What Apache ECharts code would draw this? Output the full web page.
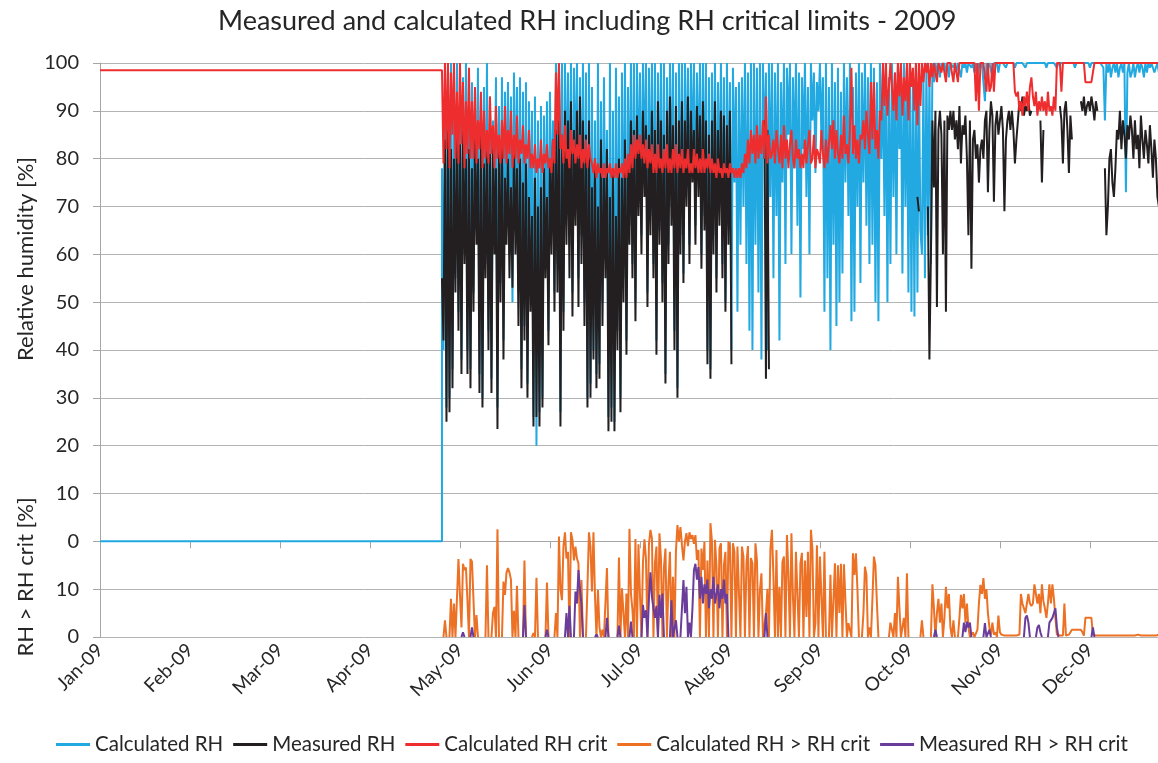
<!DOCTYPE html>
<html>
<head>
<meta charset="utf-8">
<script src="https://cdn.jsdelivr.net/npm/echarts@6/dist/echarts.min.js"></script>
<style>
  html, body { margin: 0; padding: 0; background: #fff; }
  #chart { width: 1158px; height: 763px; }
</style>
</head>
<body>
<div id="chart"></div>
<script>
// month tick labels, one every 30 days on the x axis
const monthLabels = ['Jan-09', 'Feb-09', 'Mar-09', 'Apr-09', 'May-09', 'Jun-09',
  'Jul-09', 'Aug-09', 'Sep-09', 'Oct-09', 'Nov-09', 'Dec-09'];

// readings start on day 114 (24 Apr), one value every half day
const startDay = 114;
const stepDays = 0.5;

// before the logger started: flat values from 1 Jan
const leadDays = [0, 114];
const calcLead = [0, 0];
const critLead = [98.5, 98.5];

// Calculated RH [%]
const calcRH = [
  78, 40, 100, 28, 98, 30, 100, 36, 95, 55, 100, 48, 92, 38, 97, 60, 100, 40, 94, 36,
  96, 52, 92, 65, 99, 35, 90, 30, 95, 58, 100, 44, 93, 34, 88, 64, 97, 28, 91, 54,
  97, 42, 94, 66, 96, 60, 93, 50, 98, 68, 95, 52, 97, 36, 94, 45, 96, 33, 92, 55,
  90, 26, 93, 20, 88, 27, 91, 30, 89, 60, 92, 44, 94, 66, 88, 52, 100, 58, 100, 27,
  100, 48, 100, 70, 98, 62, 100, 52, 99, 74, 100, 55, 97, 64, 100, 50, 98, 30, 100, 33,
  95, 40, 88, 35, 100, 37, 92, 50, 97, 60, 86, 26, 100, 28, 90, 25, 99, 44, 93, 30,
  98, 55, 100, 42, 95, 66, 100, 58, 100, 50, 100, 72, 98, 64, 100, 76, 100, 52, 99, 68,
  100, 58, 100, 42, 98, 65, 100, 54, 100, 35, 97, 62, 100, 70, 100, 44, 98, 32, 100, 64,
  100, 56, 100, 74, 99, 62, 100, 78, 100, 66, 98, 75, 100, 60, 100, 68, 100, 40, 97, 36,
  98, 64, 100, 55, 96, 70, 100, 58, 97, 50, 100, 66, 96, 40, 99, 75, 95, 48, 96, 62,
  97, 70, 100, 58, 98, 44, 100, 40, 100, 62, 99, 52, 100, 38, 100, 80, 98, 40, 100, 72,
  100, 55, 98, 68, 100, 42, 96, 75, 100, 58, 99, 85, 100, 60, 97, 78, 100, 66, 98, 51,
  97, 82, 100, 72, 95, 60, 100, 88, 98, 77, 96, 90, 100, 84, 97, 48, 100, 55, 95, 40,
  100, 62, 96, 45, 99, 50, 94, 56, 100, 75, 97, 68, 100, 46, 95, 48, 98, 70, 100, 54,
  98, 75, 100, 66, 97, 58, 100, 62, 99, 50, 96, 46, 100, 80, 98, 68, 100, 50, 97, 58,
  100, 72, 98, 60, 100, 82, 97, 56, 100, 70, 99, 52, 100, 48, 96, 47, 100, 52, 98, 65,
  60, 98, 55, 100, 64, 97, 58, 100, 96, 100, 98, 100, 97, 100, 99, 100, 98, 100, 97, 100,
  100, 99, 100, 98, 100, 100, 97, 100, 99, 100, 98, 100, 100, 99, 100, 98, 100, 97, 100, 99,
  100, 96, 92, 100, 99, 100, 100, 97, 100, 100, 100, 98, 100, 100, 100, 100, 99, 100, 100, 100,
  100, 100, 99, 100, 100, 100, 100, 100, 100, 99, 100, 100, 100, 100, 100, 100, 100, 100, 100, 100,
  100, 100, 100, 99, 100, 100, 100, 100, 100, 100, 99, 100, 100, 100, 100, 100, 100, 100, 100, 100,
  100, 100, 99, 100, 100, 100, 100, 100, 100, 100, 100, 100, 99, 100, 100, 100, 100, 100, 100, 100,
  100, 99, 88, 100, 98, 100, 97, 99, 100, 98, 100, 97, 99, 100, 98, 100, 73, 98, 100, 97,
  98, 100, 97, 99, 100, 98, 100, 99, 97, 100, 98, 100, 99, 100, 100, 98, 99, 100, 98, 99
];

// Measured RH [%] (null = no reading)
const measRH = [
  55, 42, 84, 25, 86, 27, 82, 32, 80, 52, 85, 44, 83, 35, 86, 58, 80, 35, 82, 32,
  78, 48, 84, 62, 80, 31, 86, 28, 79, 55, 83, 40, 81, 31, 85, 60, 78, 23.5, 82, 50,
  84, 38, 76, 62, 80, 55, 74, 53, 82, 60, 78, 45, 80, 32, 75, 42, 79, 30, 72, 48,
  68, 24, 76, 26, 70, 24, 74, 28, 78, 55, 72, 41, 80, 60, 84, 48, 86, 52, 88, 24,
  85, 44, 90, 62, 88, 55, 92, 47, 86, 66, 90, 49, 93, 58, 88, 45, 85, 28, 88, 30,
  74, 38, 80, 32, 70, 34, 84, 45, 76, 55, 82, 23, 72, 25, 78, 23, 68, 40, 80, 27,
  76, 50, 84, 39, 80, 62, 88, 55, 86, 46, 89, 68, 84, 60, 90, 72, 87, 49, 85, 64,
  90, 55, 86, 39, 92, 62, 88, 50, 85, 33, 90, 58, 93, 66, 87, 40, 91, 30, 88, 60,
  92, 54, 88, 70, 93, 58, 90, 75, 86, 62, 91, 72, 89, 57, 92, 65, 88, 37, 85, 34,
  88, 60, 92, 52, 86, 66, 90, 55, 89, 48, 87, 62, 90, 37, null, null, null, null, null, null,
  null, null, null, null, null, null, null, null, null, null, null, null, null, null, null, 88, 34, 86, 36, null,
  null, null, null, null, null, null, null, null, null, null, null, null, null, null, null, null, null, null, null, null,
  null, null, null, null, null, null, null, null, null, null, null, null, null, null, null, null, null, null, null, null,
  null, null, null, null, null, null, null, null, null, null, null, null, null, null, null, null, null, null, null, null,
  null, null, null, null, null, null, null, null, null, null, null, null, null, null, null, null, null, null, null, null,
  null, null, null, null, null, null, null, null, null, null, null, null, null, null, null, null, null, 72, 69, null,
  null, null, null, null, 70, 38, 60, 88, 74, 90, 49, 86, 90, 85, 60, 88, 48, 89, 86, 90,
  86, 90, 84, 88, 82, 91, 79, 87, 85, 89, 80, 64, 88, 57, 84, 86, 80, 83, 75, 82,
  84, 80, 88, 90, 73, 86, 92, 89, 71, 87, 90, 85, 88, 91, 86, 69, 84, 88, 90, 86,
  90, 86, 79, 84, 88, 92, 90, 93, 89, 91, 90, 92, 89, 90, null, null, null, null, null, 88,
  75, 86, null, null, null, null, null, null, null, null, null, null, 91, 88, 79, 90, 92, 86, 77, 89,
  84, null, null, null, null, null, 92, 90, 93, 89, 91, 92, 90, 93, 91, 88, 92, 90, null, null,
  null, null, 78, 64, 70, 80, 82, 75, 72, 78, 86, 84, 90, 82, 88, 85, 80, 87, 84, 89,
  86, 80, 88, 82, 85, 78, 89, 84, 80, 86, 83, 79, 87, 82, 76, 84, 80, 72, 70, 78
];

// Calculated RH crit [%]
const critRH = [
  98.5, 79, 100, 82, 100, 78, 98, 85, 100, 80, 94, 79, 100, 83, 96, 78, 92, 81, 99, 80,
  92, 80, 95, 79, 88, 82, 94, 78, 90, 80, 86, 79, 93, 81, 87, 78, 91, 80, 85, 79,
  88, 80, 91, 79, 86, 81, 90, 78, 85, 80, 89, 79, 84, 81, 87, 79, 83, 80, 86, 78,
  81, 78, 83, 77, 80, 78, 84, 77, 81, 79, 83, 78, 80, 77, 84, 79, 98, 85, 100, 82,
  85, 79, 87, 80, 82, 78, 86, 81, 84, 79, 83, 80, 85, 78, 82, 79, 84, 78, 83, 80,
  79, 77, 80, 76, 79, 77, 78, 76, 79, 76, 78, 77, 79, 76, 78, 76, 79, 76, 78, 77,
  79, 76, 80, 76, 81, 77, 83, 78, 85, 80, 84, 81, 85, 80, 83, 79, 84, 78, 82, 79,
  83, 77, 81, 77, 83, 78, 80, 77, 82, 78, 83, 77, 80, 77, 82, 78, 83, 77, 81, 78,
  82, 77, 80, 78, 82, 77, 79, 77, 82, 78, 81, 77, 80, 77, 82, 77, 80, 78, 81, 77,
  80, 77, 79, 76, 80, 77, 78, 76, 79, 77, 78, 76, 79, 77, 78, 76, 78, 76, 78, 76,
  79, 77, 81, 78, 84, 79, 86, 81, 85, 79, 87, 80, 85, 81, 88, 80, 93, 79, 85, 80,
  81, 84, 79, 86, 82, 79, 85, 78, 87, 80, 84, 78, 83, 86, 80, 78, 84, 80, 82, 78,
  81, 78, 84, 79, 83, 86, 79, 80, 85, 78, 82, 81, 79, 86, 81, 78, 84, 79, 83, 87,
  82, 88, 80, 86, 81, 79, 85, 80, 89, 81, 83, 79, 86, 99, 81, 87, 80, 84, 79, 85,
  84, 88, 82, 90, 85, 81, 96, 84, 96, 82, 86, 80, 90, 88, 100, 91, 100, 89, 95, 100,
  100, 90, 98, 88, 100, 93, 100, 89, 97, 92, 100, 88, 100, 95, 99, 90, 100, 87, 100, 91,
  100, 96, 100, 98, 100, 95, 100, 97, 100, 100, 96, 100, 100, 98, 100, 100, 96, 100, 100, 100,
  100, 96, 100, 100, 96, 100, 100, 100, 100, 100, 100, 100, 100, 100, 100, 100, 92, 100, 90, 100,
  100, 100, 100, 94, 100, 94, 95, 100, 94, 100, 100, 100, 100, 100, 100, 100, 100, 100, 100, 100,
  100, 100, 94, 93, 94, 90, 92, 89, 93, 91, 94, 90, 95, 97, 93, 91, 94, 89, 92, 90,
  93, 90, 92, 89, 94, 90, 91, 89, 93, 90, 100, 100, 100, 94, 100, 100, 100, 100, 100, 100,
  100, 100, 100, 100, 100, 100, 100, 100, 100, 96, 96, 96, 96, 96, 96, 100, 100, 100, 100, 100,
  100, 100, 100, 100, 100, 100, 100, 100, 100, 100, 100, 100, 100, 100, 100, 100, 100, 100, 100, 100,
  100, 100, 100, 100, 100, 100, 100, 100, 100, 100, 100, 100, 100, 100, 100, 100, 100, 100, 100, 100
];

// Calculated RH > RH crit [%]
const calcOver = [
  0, 0, 3.5, 0, 0, 0, 8, 0, 7, 0, 0, 16.3, 8.8, 2, 15.3, 14, 14.5, 7.5, 0, 16.3,
  15.8, 16, 0, 4.6, 0, 0, 0, 0, 0, 0, 15, 0, 0, 0, 5, 6.3, 0, 22.5, 0, 0,
  0, 11.6, 8.8, 13.4, 14.4, 13.5, 12, 0, 5.5, 0, 10.7, 0, 0, 0, 0, 16, 0, 0, 0, 0,
  0, 0.8, 0, 12.4, 0, 0, 0, 0, 0, 0, 11.4, 0, 0, 0, 0, 0, 5, 0, 21, 10,
  7.7, 18.9, 21.9, 16.4, 17.8, 0, 21.9, 20.3, 16, 18.9, 16.4, 15.4, 0, 11.9, 0, 0, 0, 10.5, 21.9, 18.9,
  9.5, 21.9, 8.8, 0, 9.8, 2, 0, 1.5, 0, 0, 14.4, 0, 0, 0, 0, 0, 0, 0, 16.6, 0,
  10.2, 9.8, 0, 9.1, 0, 22.6, 9.1, 5.6, 0, 20.5, 0, 19.4, 9, 0, 15.6, 20.4, 16.4, 0, 19.4, 22.4,
  20.6, 0, 15.4, 18.9, 0, 21.7, 16.4, 0, 14.6, 18.5, 0, 11.2, 17.8, 0, 12.6, 0, 18, 23.4, 20, 23,
  19.2, 16, 20, 21.7, 19, 21.9, 20.5, 21.3, 19.5, 21.3, 16.1, 18.2, 0, 18.5, 14, 19.9, 0, 16, 0, 23.8,
  20, 0, 20.3, 15, 0, 18.5, 19.6, 0, 15.1, 17.8, 0, 19.9, 18.9, 0, 19.6, 17.8, 0, 18.9, 18.5, 0,
  18.9, 16.8, 0, 15.4, 19, 0, 16.5, 15.4, 0, 19.6, 16.1, 0, 9.8, 13.3, 0, 0, 4.9, 10.1, 0, 18.5,
  22.4, 12.6, 0, 18.2, 0, 10.5, 0, 15.7, 16.8, 0, 21.3, 13, 0, 21.7, 8.5, 0, 17.8, 18.2, 0, 15.4,
  17.6, 0, 16, 4.2, 17.8, 0, 22.4, 18.2, 0, 2.9, 19.2, 0, 16.8, 16.8, 0, 17.8, 0, 0, 0, 13,
  0, 0, 15.4, 0, 15, 5, 15.3, 0, 15.2, 15.4, 0, 2.9, 2.9, 0, 17.5, 13, 17.5, 10, 0, 0,
  0, 5, 14.7, 13, 0, 2, 0, 8, 16.8, 15, 7, 0, 0, 0, 0, 0, 0, 0, 0, 3,
  3, 0, 5, 0, 12.6, 6, 0, 0, 4, 0, 13.3, 0, 0, 0, 0, 0, 0, 0, 0, 0,
  3.5, 0, 0, 0, 0, 0, 0, 11, 6, 0, 5, 8, 3, 7, 0, 4, 10.5, 6, 9, 2,
  0, 3.5, 0, 0, 0, 4, 8.8, 6, 9, 3, 7, 2, 0, 0, 1, 0, 0, 1.5, 7, 10.9,
  9, 12.3, 8, 10, 5, 2, 0.5, 3, 0.5, 1, 0, 4.5, 1, 0.5, 0.3, 0.3, 0.3, 0.3, 0.3, 0.3,
  0.3, 0.3, 0.3, 0.3, 0.3, 0.5, 9, 7, 7, 5, 7, 9, 7, 6.5, 7, 11, 11, 7, 9, 5,
  11, 7.5, 6, 4, 7, 11, 7, 11, 8, 4, 0.5, 0.3, 0.3, 0.3, 0.3, 7, 0.3, 0.3, 0.5, 1,
  1.5, 1.5, 1.5, 1.5, 1.5, 1.5, 1.5, 1, 0.3, 4, 4, 4, 4, 4, 0.5, 0.3, 0.3, 0.3, 0.3, 0.3,
  0.3, 0.3, 0.3, 0.3, 0.3, 0.3, 0.3, 0.3, 0.3, 0.3, 0.3, 0.3, 0.3, 0.3, 0.3, 0.3, 0.3, 0.3, 0.3, 0.3,
  0.3, 0.5, 0.3, 0.3, 0.5, 0.3, 0.3, 0.3, 0.3, 0.5, 0.3, 0.3, 0.3, 0.5, 0.3, 0.3, 0.3, 0.3, 0.5, 0.3
];

// Measured RH > RH crit [%]
const measOver = [
  0, 0, 0, 0, 0, 0, 0, 0, 0, 0, 0, 0, 0, 0, 1, 0, 0, 0, 0, 0,
  2, 0, 0, 0, 0, 0, 0, 0, 0, 0, 0, 0, 0, 0, 0, 0, 0, 0, 0, 0,
  0, 0, 0, 0, 0, 0, 0, 0, 0, 0, 0, 0, 0, 0, 0, 6.7, 0, 0, 0, 0,
  0, 0, 0, 0, 0, 0, 0, 0, 0, 0, 1.5, 0, 0, 0, 0, 0, 0, 0, 0, 0,
  0, 0, 0, 5, 0, 6.5, 0, 0, 0, 9.5, 7, 14, 10, 7, 0, 0, 0, 0, 0, 0,
  0, 0, 0, 0.5, 0, 0, 0, 0, 0, 0, 4, 0, 0, 0, 0, 0, 0, 0, 2.4, 0,
  0, 0, 0, 0, 0, 0, 3.2, 0, 0, 0, 0, 0, 0, 0, 6.7, 4, 5.6, 0, 8, 13.5,
  8.4, 6, 4, 6.5, 0, 8.8, 4, 9.1, 0, 0, 0, 0, 0, 7.7, 0, 0, 3.5, 0, 0, 0,
  6, 11.9, 5, 10.5, 0, 3, 0, 6, 14, 15.3, 12, 14.6, 8, 12.6, 7, 11, 9, 12, 6, 10,
  8, 12.6, 7, 9, 11, 6, 10, 8, 12, 7, 9, 0, 0, 0, 0, 0, 0, 0, 0, 0,
  0, 0, 0, 0, 0, 0, 0, 0, 0, 0, 0, 0, 0, 0, 0, 0, 5, 0, 0, 0,
  0, 0, 0, 0, 0, 0, 0, 0, 0, 0, 0, 0, 0, 0, 0, 0, 0, 0, 0, 0,
  0, 0, 0, 0, 0, 0, 0, 0, 0, 0, 0, 0, 0, 0, 0, 0, 0, 0, 0, 0,
  0, 0, 0, 0, 0, 0, 0, 0, 0, 0, 0, 0, 0, 0, 0, 0, 0, 0, 0, 0,
  0, 0, 0, 0, 0, 0, 0, 0, 0, 0, 0, 0, 0, 0, 0, 0, 0, 0, 0, 0,
  0, 0, 0, 0, 0, 0, 0, 0, 0, 0, 0, 0, 0, 0, 0, 0, 0, 0, 0, 0,
  0, 0, 0, 0, 0, 0, 0, 0, 0, 1.5, 0, 0, 0, 0, 0, 0, 0, 0, 0, 0,
  0, 0, 0, 0, 0, 0, 0, 0, 3, 1, 3.2, 2, 3, 0, 0, 0, 0, 0, 0, 0,
  0, 0, 2.9, 0, 0, 1.5, 0, 0, 0, 0, 0, 0, 0, 0, 0, 0, 0, 0, 0, 0,
  0, 0, 0, 0, 0, 0, 0, 0, 0, 4, 4.5, 3, 0, 0, 0, 0, 0, 2, 2.5, 1,
  0, 0, 0, 0, 0, 3, 3.2, 4, 5, 6, 2, 0, 0, 0, 0, 0, 0, 0, 0, 0,
  0, 0, 0, 0, 0, 0, 0, 0, 0, 0, 0, 0, 0, 0, 2, 0, 0, 0, 0, 0,
  0, 0, 0, 0, 0, 0, 0, 0, 0, 0, 0, 0, 0, 0, 0, 0, 0, 0, 0, 0,
  0, 0, 0, 0, 0, 0, 0, 0, 0, 0, 0, 0, 0, 0, 0, 0, 0, 0, 0, 0
];

const FONT = 'Lato';
const TEXT = '#262626';
const AXIS_GRAY = '#A6A6A6';
const GRID_GRAY = '#B3B3B3';

function toPairs(values) {
  return values.map((v, i) => [startDay + i * stepDays, v]);
}
function leadPairs(values) {
  return values.map((v, i) => [leadDays[i], v]);
}
// zero runs sit on the x axis line in the original; only keep the zeros
// that start or end a spike so the baseline stays grey
function spikesOnly(values) {
  return values.map((v, i) => {
    if (v !== 0) return v;
    const prev = values[i - 1], next = values[i + 1];
    return (prev > 0 || next > 0) ? 0 : null;
  });
}

function lineSeries(name, color, data, width, yAxisIndex) {
  return {
    name: name,
    type: 'line',
    yAxisIndex: yAxisIndex || 0,
    data: data,
    showSymbol: false,
    symbol: 'none',
    sampling: null,
    connectNulls: false,
    lineStyle: { color: color, width: width },
    itemStyle: { color: color }
  };
}

const chart = echarts.init(document.getElementById('chart'));

const option = {
  animation: false,
  backgroundColor: '#fff',
  textStyle: { fontFamily: FONT },
  title: {
    text: 'Measured and calculated RH including RH critical limits - 2009',
    left: 213,
    top: 3,
    textStyle: { fontFamily: FONT, fontSize: 27, fontWeight: 'normal', color: TEXT }
  },
  legend: {
    bottom: 3,
    left: 51,
    icon: 'rect',
    itemWidth: 34,
    itemHeight: 3,
    itemGap: 10,
    textStyle: { fontFamily: FONT, fontSize: 20.5, color: TEXT },
    data: ['Calculated RH', 'Measured RH', 'Calculated RH crit',
      'Calculated RH > RH crit', 'Measured RH > RH crit']
  },
  grid: { left: 100, right: 0, top: 63, bottom: 126 },
  xAxis: {
    type: 'value',
    min: 0,
    max: 352.7,
    interval: 30,
    axisLine: { lineStyle: { color: AXIS_GRAY, width: 1 } },
    axisTick: { length: 7, lineStyle: { color: AXIS_GRAY } },
    splitLine: { show: false },
    axisLabel: {
      rotate: 45,
      margin: 10,
      fontFamily: FONT,
      fontSize: 19,
      color: TEXT,
      showMaxLabel: false,
      formatter: v => (v % 30 === 0 ? monthLabels[v / 30] : '')
    }
  },
  yAxis: [
    {
      type: 'value',
      min: -20,
      max: 100,
      interval: 10,
      axisLine: { show: true, lineStyle: { color: AXIS_GRAY } },
      axisTick: { show: true, length: 7, lineStyle: { color: AXIS_GRAY } },
      splitLine: { lineStyle: { color: GRID_GRAY, width: 1 } },
      axisLabel: {
        margin: 21,
        fontFamily: FONT,
        fontSize: 20,
        color: TEXT,
        // lower part is the exceedance scale: 0 at the bottom, 10 above it
        formatter: v => String(v < 0 ? v + 20 : v)
      }
    },
    { type: 'value', min: 0, max: 120, show: false }
  ],
  graphic: [
    {
      type: 'text', x: 26, y: 259, rotation: Math.PI / 2,
      style: { text: 'Relative humidity [%]', fill: TEXT, font: '22px ' + FONT,
        textAlign: 'center', textVerticalAlign: 'middle' }
    },
    {
      type: 'text', x: 26, y: 577, rotation: Math.PI / 2,
      style: { text: 'RH > RH crit [%]', fill: TEXT, font: '22px ' + FONT,
        textAlign: 'center', textVerticalAlign: 'middle' }
    }
  ],
  series: [
    lineSeries('Calculated RH', '#22A9E1', leadPairs(calcLead).concat(toPairs(calcRH)), 2),
    lineSeries('Measured RH', '#231F20', toPairs(measRH), 2),
    lineSeries('Calculated RH crit', '#EE2E2E', leadPairs(critLead).concat(toPairs(critRH)), 2),
    lineSeries('Calculated RH > RH crit', '#EC7125', toPairs(spikesOnly(calcOver)), 2, 1),
    lineSeries('Measured RH > RH crit', '#6A3D9A', toPairs(spikesOnly(measOver)), 2, 1)
  ]
};

chart.setOption(option);
</script>
</body>
</html>
